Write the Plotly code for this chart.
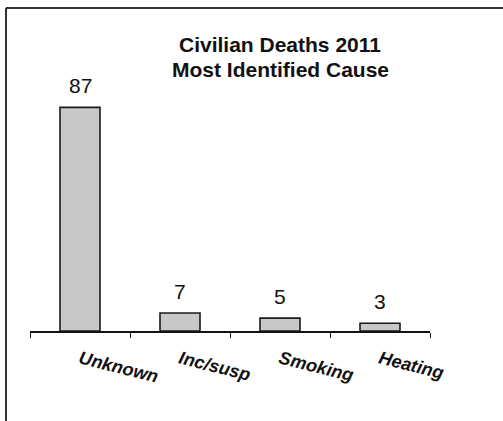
import plotly.graph_objects as go

categories = ["Unknown", "Inc/susp", "Smoking", "Heating"]
deaths = [87, 7, 5, 3]
title_lines = ["Civilian Deaths 2011", "Most Identified Cause"]

W, H = 503, 421
ML, MR, MT, MB = 30, 73, 74, 90
pw, ph = W - ML - MR, H - MT - MB

fig = go.Figure()
fig.add_trace(go.Bar(
    x=categories, y=deaths, width=0.4,
    marker=dict(color="#C8C8C8", line=dict(color="#1a1a1a", width=1.6)),
    hoverinfo="skip",
))

for c, v in zip(categories, deaths):
    fig.add_annotation(x=c, y=v, text=str(v), showarrow=False,
                       xanchor="center", yanchor="bottom", yshift=8,
                       font=dict(family="Liberation Sans, Arial", size=21, color="#111"))

def px2xp(px):
    return (px - ML) / pw

def py2yp(py):
    return (H - MB - py) / ph

# title, two lines
for line, ypx in zip(title_lines, [45, 69]):
    fig.add_annotation(text="<b>%s</b>" % line, xref="paper", yref="paper",
                       x=px2xp(280), y=py2yp(ypx), xanchor="center", yanchor="middle",
                       showarrow=False,
                       font=dict(family="Liberation Sans, Arial", size=21, color="#111"))

# outer frame (top and left edges visible)
fig.add_shape(type="line", xref="paper", yref="paper",
              x0=px2xp(6), x1=px2xp(510), y0=py2yp(8), y1=py2yp(8),
              line=dict(color="#333", width=2))
fig.add_shape(type="line", xref="paper", yref="paper",
              x0=px2xp(6), x1=px2xp(6), y0=py2yp(8), y1=py2yp(430),
              line=dict(color="#333", width=2))

fig.update_layout(
    width=W, height=H,
    margin=dict(l=ML, r=MR, t=MT, b=MB),
    paper_bgcolor="white", plot_bgcolor="white",
    showlegend=False,
    xaxis=dict(type="category", range=[-0.5, 3.5], showline=True, linecolor="#111",
               linewidth=1.6, ticks="outside", tickson="boundaries", ticklen=5,
               tickcolor="#111", tickwidth=1, tickangle=14, ticklabelstandoff=9,
               tickfont=dict(family="Liberation Sans, Arial", size=18, color="#111",
                             weight="bold", style="italic"),
               showgrid=False, zeroline=False, fixedrange=True),
    yaxis=dict(range=[0, 100], visible=False, showgrid=False, zeroline=False,
               fixedrange=True),
)

fig.write_html("out.html", config={"displayModeBar": False},
               post_script="document.body.style.margin='0';")
